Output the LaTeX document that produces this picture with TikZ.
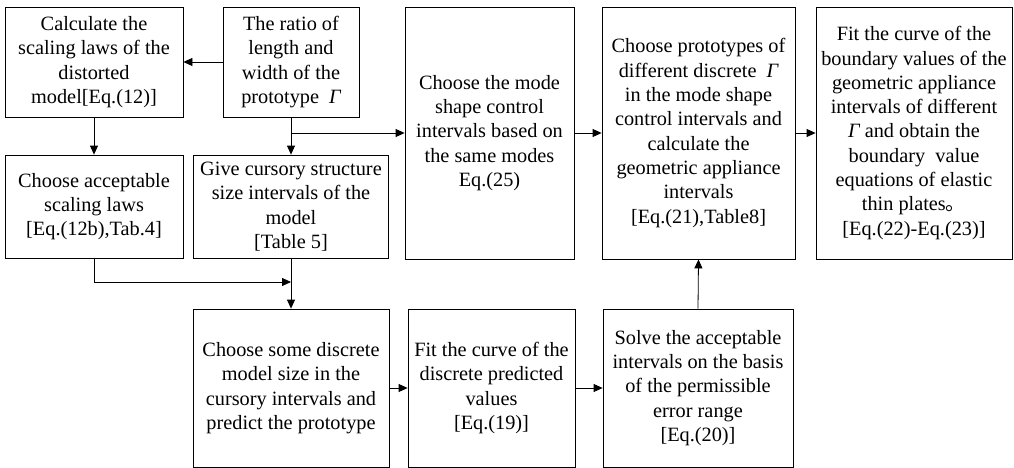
\documentclass[tikz,border=0pt]{standalone}
\usepackage{fontspec}
\setmainfont{Liberation Serif}
\newfontfamily\cjk{Noto Sans CJK SC}
\usetikzlibrary{arrows.meta}
\newcommand{\Gm}{{\itshape Γ}}
\begin{document}
\begin{tikzpicture}[x=1pt,y=-1pt,
  box/.style={draw, line width=0.8pt, inner sep=0pt, align=center,
    font=\fontsize{20.3}{24.3}\selectfont},
  arr/.style={line width=0.8pt, -{Triangle[length=9pt,width=8pt]}},
  ln/.style={line width=0.8pt}]
\useasboundingbox (0,0) rectangle (1014,468);
\fill[white] (0,0) rectangle (1014,468);
% boxes: centre at ((x1+x2)/2,(y1+y2)/2)
\node[box, minimum width=178pt, minimum height=110pt] (b1) at (94,62)
  {Calculate the\\scaling laws of the\\distorted\\model[Eq.(12)]};
\node[box, minimum width=136pt, minimum height=110pt] (b2) at (291,62)
  {The ratio of\\length and\\width of the\\prototype\ \ \Gm};
\node[box, minimum width=178pt, minimum height=103pt] (b3) at (94,206.5)
  {Choose acceptable\\scaling laws\\[0pt][Eq.(12b),Tab.4]};
\node[box, minimum width=195pt, minimum height=103pt] (b4) at (291,206.5)
  {Give cursory structure\\size intervals of the\\model\\[0pt][Table 5]};
\node[box, minimum width=196pt, minimum height=158pt] (b5) at (291,388)
  {Choose some discrete\\model size in the\\cursory intervals and\\predict the prototype};
\node[box, minimum width=167pt, minimum height=158pt] (b6) at (491.5,388)
  {Fit the curve of the\\discrete predicted\\values\\[0pt][Eq.(19)]};
\node[box, minimum width=190pt, minimum height=158pt] (b7) at (698,388)
  {Solve the acceptable\\intervals on the basis\\of the permissible\\error range\\[0pt][Eq.(20)]};
\node[box, minimum width=169pt, minimum height=252pt] (b9) at (489.5,133)
  {Choose the mode\\shape control\\intervals based on\\the same modes\\Eq.(25)};
\node[box, minimum width=193pt, minimum height=252pt] (b8) at (698.5,133)
  {Choose prototypes of\\different discrete\ \ \Gm\\in the mode shape\\control intervals and\\calculate the\\geometric appliance\\intervals\\[0pt][Eq.(21),Table8]};
\node[box, minimum width=196pt, minimum height=252pt] (b10) at (914,133)
  {Fit the curve of the\\boundary values of the\\geometric appliance\\intervals of different\\\Gm\ and obtain the\\boundary\ \ value\\equations of elastic\\thin plates{\cjk 。}\\[0pt][Eq.(22)-Eq.(23)]};
% connectors
\coordinate (j1) at (291,133);
\coordinate (j2) at (291,282);
\draw[arr] (b2.west) -- (b1.east);
\draw[arr] (b1.south) -- (b3.north);
\draw[arr] (b2.south) -- (b4.north);
\draw[arr] (j1) -- (b9.west);
\draw[arr] (b3.south) |- (j2);
\draw[arr] (b4.south) -- (b5.north);
\draw[arr] (b5.east) -- (b6.west);
\draw[arr] (b6.east) -- (b7.west);
\draw[arr] (b7.north) -- (b8.south);
\draw[arr] (b9.east) -- (b8.west);
\draw[arr] (b8.east) -- (b10.west);
\end{tikzpicture}
\end{document}
